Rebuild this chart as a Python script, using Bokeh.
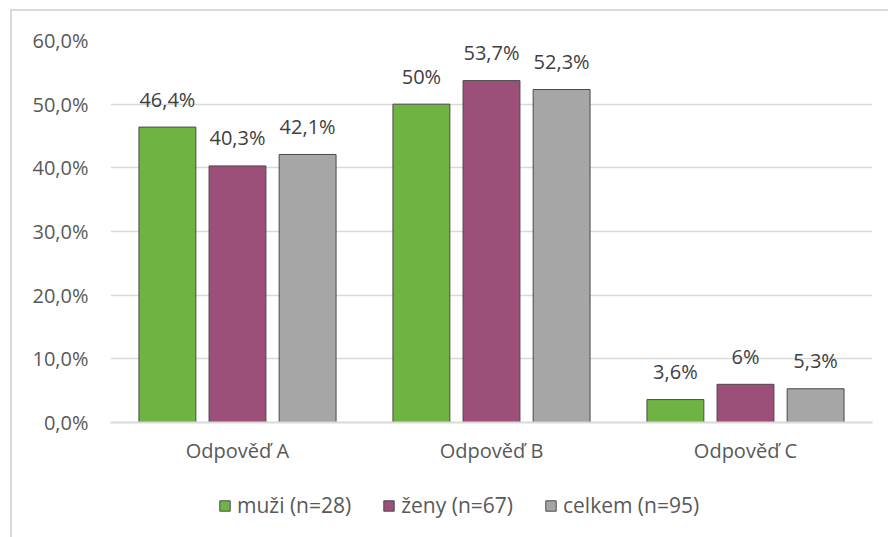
from bokeh.plotting import figure
from bokeh.models import (ColumnDataSource, FixedTicker, Legend, LegendItem,
                          InlineStyleSheet)
from bokeh.layouts import column
from bokeh.core.properties import value
from bokeh.transform import dodge
from bokeh.embed import file_html
from bokeh.resources import INLINE

# data
categories = ["Odpověď A", "Odpověď B", "Odpověď C"]
series_names = ["muži (n=28)", "ženy (n=67)", "celkem (n=95)"]
muzi = [46.4, 50.0, 3.6]
zeny = [40.3, 53.7, 6.0]
celkem = [42.1, 52.3, 5.3]
muzi_labels = ["46,4%", "50%", "3,6%"]
zeny_labels = ["40,3%", "53,7%", "6%"]
celkem_labels = ["42,1%", "52,3%", "5,3%"]
y_ticks = [0, 10, 20, 30, 40, 50, 60]
y_tick_labels = ["0,0%", "10,0%", "20,0%", "30,0%", "40,0%", "50,0%", "60,0%"]

FONT = "Open Sans"
fills = ["#6fb443", "#9b4f79", "#a6a6a6"]

# light frame lines around the chart area
top_css = InlineStyleSheet(css="""
:host::after {
  content: ""; position: absolute; left: 10px; top: 9px; right: 0px; bottom: 0px;
  border-left: 2px solid #d9d9d9; border-top: 2px solid #d9d9d9;
  pointer-events: none;
}
""")
bottom_css = InlineStyleSheet(css="""
:host::after {
  content: ""; position: absolute; left: 10px; top: 0px; width: 0px; bottom: 0px;
  border-left: 2px solid #d9d9d9;
  pointer-events: none;
}
""")

p = figure(x_range=categories, y_range=(0, 60), width=888, height=477,
           output_backend="svg", toolbar_location=None,
           min_border_left=110, min_border_right=16,
           min_border_top=40, min_border_bottom=55)
p.stylesheets = [top_css]
p.outline_line_color = None
p.background_fill_color = "white"
p.border_fill_color = "white"

src = ColumnDataSource(dict(cat=categories, muzi=muzi, zeny=zeny, celkem=celkem,
                            ml=muzi_labels, zl=zeny_labels, cl=celkem_labels))

offsets = [-0.276, 0.0, 0.276]
cols = ["muzi", "zeny", "celkem"]
lab_cols = ["ml", "zl", "cl"]
for off, col, lc, f in zip(offsets, cols, lab_cols, fills):
    p.vbar(x=dodge("cat", off, range=p.x_range), top=col, width=0.224,
           source=src, fill_color=f, line_color="#4a4a4a", line_width=1)
    p.text(x=dodge("cat", off, range=p.x_range), y=col, text=lc, source=src,
           text_align="center", text_baseline="alphabetic", y_offset=-28,
           text_font=value(FONT), text_font_size="20px", text_color="#404040")

# axes
p.yaxis.ticker = FixedTicker(ticks=y_ticks)
p.yaxis.major_label_overrides = {t: s for t, s in zip(y_ticks, y_tick_labels)}
for ax in (p.xaxis[0], p.yaxis[0]):
    ax.axis_line_color = None
    ax.major_tick_line_color = None
    ax.minor_tick_line_color = None
    ax.major_tick_out = 0
    ax.major_tick_in = 0
    ax.major_label_text_font = FONT
    ax.major_label_text_font_size = "20px"
    ax.major_label_text_color = "#595959"
p.xaxis.axis_line_color = "#d9d9d9"
p.xaxis.axis_line_width = 2
p.yaxis.major_label_standoff = 22
p.xaxis.major_label_standoff = 14

p.xgrid.grid_line_color = None
p.ygrid.grid_line_color = "#d9d9d9"
p.ygrid.grid_line_width = 1.5
p.ygrid.ticker = FixedTicker(ticks=y_ticks)

# legend strip below the chart; its series renderers sit outside the visible y range
lg = figure(width=888, height=60, output_backend="svg", toolbar_location=None,
            x_range=categories, y_range=(100, 101), min_border=0,
            x_axis_location=None, y_axis_location=None)
lg.stylesheets = [bottom_css]
lg.grid.visible = False
lg.outline_line_color = None
swatches = [lg.vbar(x=dodge("cat", off, range=lg.x_range), top=col, width=0.224,
                    source=src, fill_color=f, line_color="#4a4a4a")
            for off, col, f in zip(offsets, cols, fills)]
legend = Legend(items=[LegendItem(label=n, renderers=[r])
                       for n, r in zip(series_names, swatches)],
                orientation="horizontal", location=(108, 18),
                label_text_font=FONT, label_text_font_size="21px",
                label_text_color="#595959", glyph_width=13, glyph_height=13,
                label_standoff=6, spacing=31, border_line_color=None,
                background_fill_alpha=0, padding=0, margin=0)
lg.add_layout(legend, "center")

open("out.html", "w").write(file_html(column(p, lg, spacing=0), INLINE))
